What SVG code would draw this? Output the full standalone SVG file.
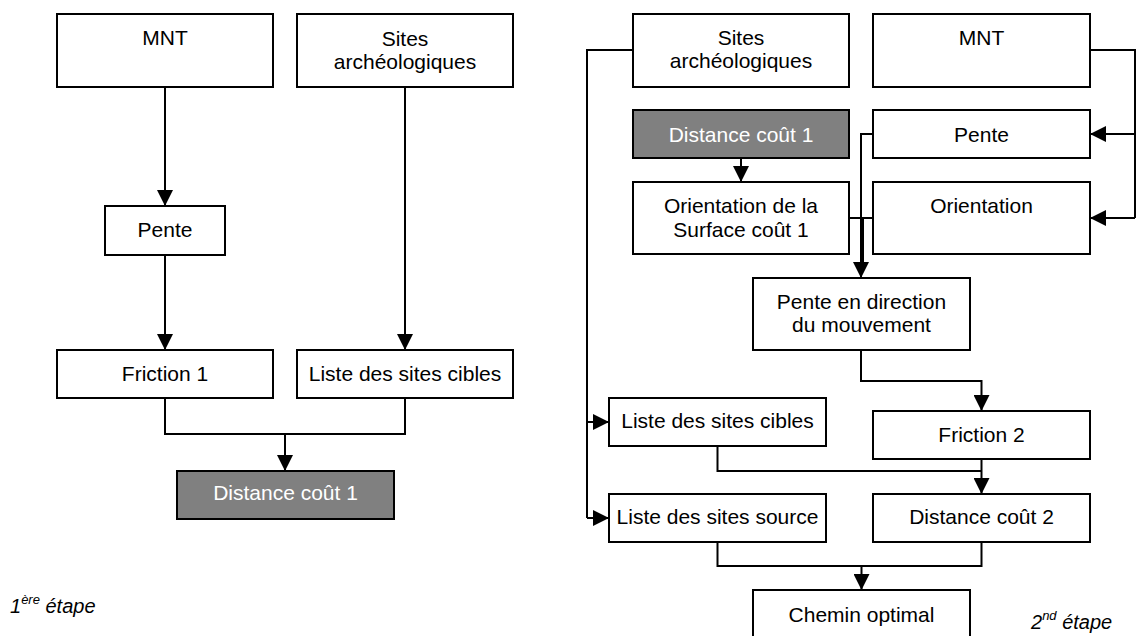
<svg xmlns="http://www.w3.org/2000/svg" width="1137" height="636" viewBox="0 0 1137 636">
<style>
.box{fill:#fff;stroke:#000;stroke-width:2}
.dark{fill:#808080;stroke:#000;stroke-width:2}
.t{font-family:"Liberation Sans",Arial,sans-serif;font-size:21px;fill:#000;text-anchor:middle}
.tw{font-family:"Liberation Sans",Arial,sans-serif;font-size:21px;fill:#fff;text-anchor:middle}
.lab{font-family:"Liberation Sans",Arial,sans-serif;font-size:20px;font-style:italic;fill:#000}
.c{fill:none;stroke:#000;stroke-width:2}
</style>
<defs>
<marker id="ah" markerUnits="userSpaceOnUse" markerWidth="16" markerHeight="16" refX="16" refY="8" orient="auto">
<path d="M0,0 L16,8 L0,16 z" fill="#000"/>
</marker>
</defs>
<rect width="1137" height="636" fill="#fff"/>
<g id="connectors">
<path class="c" d="M165,87 V206" marker-end="url(#ah)"/>
<path class="c" d="M165,255 V350" marker-end="url(#ah)"/>
<path class="c" d="M405,87 V350" marker-end="url(#ah)"/>
<path class="c" d="M165,398 V434 H405 V398"/>
<path class="c" d="M285,434 V471" marker-end="url(#ah)"/>
<path class="c" d="M1090,50 H1135 V218"/>
<path class="c" d="M1135,134 H1090" marker-end="url(#ah)"/>
<path class="c" d="M1135,218 H1090" marker-end="url(#ah)"/>
<path class="c" d="M741,158 V182" marker-end="url(#ah)"/>
<path class="c" d="M873,134 H861 V278" marker-end="url(#ah)"/>
<path class="c" d="M849,218 H873"/>
<path class="c" d="M863,218 V262"/>
<path class="c" d="M633,50 H587 V518"/>
<path class="c" d="M587,422 H609" marker-end="url(#ah)"/>
<path class="c" d="M587,518 H609" marker-end="url(#ah)"/>
<path class="c" d="M861,350 V381 H981.5 V411" marker-end="url(#ah)"/>
<path class="c" d="M717.5,446 V471 H981.5"/>
<path class="c" d="M981.5,459 V494" marker-end="url(#ah)"/>
<path class="c" d="M717.5,542 V566 H981.5 V542"/>
<path class="c" d="M861.5,566 V590" marker-end="url(#ah)"/>
</g>
<g id="mnt1"><rect class="box" x="57" y="14" width="216" height="73"/><text class="t" x="165" y="45">MNT</text></g>
<g id="sites1"><rect class="box" x="297" y="14" width="216" height="73"/><text class="t" x="405" y="46">Sites</text><text class="t" x="405" y="69">archéologiques</text></g>
<g id="pente1"><rect class="box" x="105" y="206" width="120" height="49"/><text class="t" x="165" y="237">Pente</text></g>
<g id="friction1"><rect class="box" x="57" y="350" width="216" height="48"/><text class="t" x="165" y="381">Friction 1</text></g>
<g id="listec1"><rect class="box" x="297" y="350" width="216" height="48"/><text class="t" x="405" y="381">Liste des sites cibles</text></g>
<g id="dist1a"><rect class="dark" x="177" y="471" width="217" height="48"/><text class="tw" x="285.5" y="500">Distance coût 1</text></g>
<g id="sites2"><rect class="box" x="633" y="14" width="216" height="73"/><text class="t" x="741" y="45">Sites</text><text class="t" x="741" y="68">archéologiques</text></g>
<g id="mnt2"><rect class="box" x="873" y="14" width="217" height="73"/><text class="t" x="981.5" y="45">MNT</text></g>
<g id="dist1b"><rect class="dark" x="633" y="110" width="216" height="48"/><text class="tw" x="741" y="142">Distance coût 1</text></g>
<g id="pente2"><rect class="box" x="873" y="110" width="217" height="48"/><text class="t" x="981.5" y="142">Pente</text></g>
<g id="orsurf"><rect class="box" x="633" y="182" width="216" height="72"/><text class="t" x="741" y="213">Orientation de la</text><text class="t" x="741" y="237">Surface coût 1</text></g>
<g id="orient"><rect class="box" x="873" y="182" width="217" height="72"/><text class="t" x="981.5" y="213">Orientation</text></g>
<g id="pentedir"><rect class="box" x="753" y="278" width="217" height="72"/><text class="t" x="861.5" y="309">Pente en direction</text><text class="t" x="861.5" y="332">du mouvement</text></g>
<g id="listec2"><rect class="box" x="609" y="398" width="217" height="48"/><text class="t" x="717.5" y="428">Liste des sites cibles</text></g>
<g id="friction2"><rect class="box" x="873" y="411" width="217" height="48"/><text class="t" x="981.5" y="442">Friction 2</text></g>
<g id="listes"><rect class="box" x="609" y="494" width="217" height="48"/><text class="t" x="717.5" y="524">Liste des sites source</text></g>
<g id="dist2"><rect class="box" x="873" y="494" width="217" height="48"/><text class="t" x="981.5" y="524">Distance coût 2</text></g>
<g id="chemin"><rect class="box" x="753" y="590" width="217" height="60"/><text class="t" x="861.5" y="622">Chemin optimal</text></g>
<g id="label1"><text class="lab" x="10" y="613">1<tspan dy="-9" font-size="13">ère</tspan><tspan dy="9"> étape</tspan></text></g>
<g id="label2"><text class="lab" x="1031" y="629">2<tspan dy="-9" font-size="13">nd</tspan><tspan dy="9"> étape</tspan></text></g>
</svg>
